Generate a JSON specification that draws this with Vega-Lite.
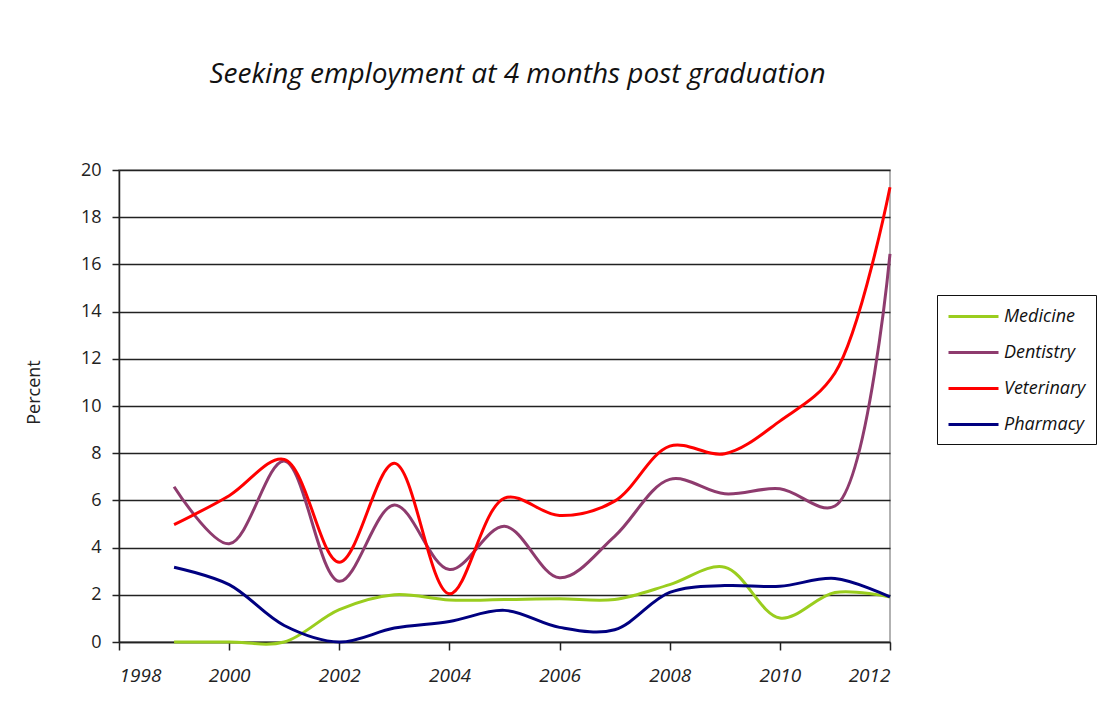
{
  "$schema": "https://vega.github.io/schema/vega-lite/v6.json",
  "autosize": "none",
  "width": 771,
  "height": 472,
  "padding": {"left": 119, "top": 170, "right": 217, "bottom": 80},
  "background": "white",
  "title": {
    "text": "Seeking employment at 4 months post graduation",
    "font": "Open Sans",
    "fontStyle": "italic",
    "fontWeight": "normal",
    "fontSize": 28,
    "color": "#111",
    "anchor": "middle",
    "dx": 13,
    "offset": 72
  },
  "data": {
    "values": [
      {"year": 1999, "series": "Medicine", "value": 0},
      {"year": 2000, "series": "Medicine", "value": 0},
      {"year": 2001, "series": "Medicine", "value": 0},
      {"year": 2002, "series": "Medicine", "value": 1.37},
      {"year": 2003, "series": "Medicine", "value": 2.0},
      {"year": 2004, "series": "Medicine", "value": 1.78},
      {"year": 2005, "series": "Medicine", "value": 1.8},
      {"year": 2006, "series": "Medicine", "value": 1.83},
      {"year": 2007, "series": "Medicine", "value": 1.8},
      {"year": 2008, "series": "Medicine", "value": 2.43},
      {"year": 2009, "series": "Medicine", "value": 3.17},
      {"year": 2010, "series": "Medicine", "value": 1.02},
      {"year": 2011, "series": "Medicine", "value": 2.1},
      {"year": 2012, "series": "Medicine", "value": 1.91},
      {"year": 1999, "series": "Dentistry", "value": 6.58},
      {"year": 2000, "series": "Dentistry", "value": 4.16},
      {"year": 2001, "series": "Dentistry", "value": 7.67},
      {"year": 2002, "series": "Dentistry", "value": 2.57},
      {"year": 2003, "series": "Dentistry", "value": 5.81},
      {"year": 2004, "series": "Dentistry", "value": 3.07},
      {"year": 2005, "series": "Dentistry", "value": 4.9},
      {"year": 2006, "series": "Dentistry", "value": 2.72},
      {"year": 2007, "series": "Dentistry", "value": 4.48},
      {"year": 2008, "series": "Dentistry", "value": 6.89},
      {"year": 2009, "series": "Dentistry", "value": 6.28},
      {"year": 2010, "series": "Dentistry", "value": 6.49},
      {"year": 2011, "series": "Dentistry", "value": 5.76},
      {"year": 2012, "series": "Dentistry", "value": 16.45},
      {"year": 1999, "series": "Veterinary", "value": 4.97},
      {"year": 2000, "series": "Veterinary", "value": 6.2},
      {"year": 2001, "series": "Veterinary", "value": 7.74},
      {"year": 2002, "series": "Veterinary", "value": 3.38},
      {"year": 2003, "series": "Veterinary", "value": 7.57},
      {"year": 2004, "series": "Veterinary", "value": 2.04},
      {"year": 2005, "series": "Veterinary", "value": 6.1},
      {"year": 2006, "series": "Veterinary", "value": 5.36},
      {"year": 2007, "series": "Veterinary", "value": 5.97},
      {"year": 2008, "series": "Veterinary", "value": 8.3},
      {"year": 2009, "series": "Veterinary", "value": 7.98},
      {"year": 2010, "series": "Veterinary", "value": 9.36},
      {"year": 2011, "series": "Veterinary", "value": 11.4},
      {"year": 2012, "series": "Veterinary", "value": 19.27},
      {"year": 1999, "series": "Pharmacy", "value": 3.17},
      {"year": 2000, "series": "Pharmacy", "value": 2.43},
      {"year": 2001, "series": "Pharmacy", "value": 0.7},
      {"year": 2002, "series": "Pharmacy", "value": 0},
      {"year": 2003, "series": "Pharmacy", "value": 0.59},
      {"year": 2004, "series": "Pharmacy", "value": 0.87},
      {"year": 2005, "series": "Pharmacy", "value": 1.34},
      {"year": 2006, "series": "Pharmacy", "value": 0.62},
      {"year": 2007, "series": "Pharmacy", "value": 0.52},
      {"year": 2008, "series": "Pharmacy", "value": 2.1},
      {"year": 2009, "series": "Pharmacy", "value": 2.39},
      {"year": 2010, "series": "Pharmacy", "value": 2.36},
      {"year": 2011, "series": "Pharmacy", "value": 2.69},
      {"year": 2012, "series": "Pharmacy", "value": 1.91}
    ]
  },
  "mark": {"type": "line", "interpolate": "catmull-rom", "strokeWidth": 3, "clip": false},
  "encoding": {
    "x": {
      "field": "year",
      "type": "quantitative",
      "scale": {"domain": [1998, 2012], "nice": false, "zero": false},
      "axis": {
        "title": null,
        "values": [1998, 2000, 2002, 2004, 2006, 2008, 2010, 2012],
        "format": "d",
        "grid": false,
        "domainColor": "#222",
        "domainWidth": 1.5,
        "tickColor": "#222",
        "tickWidth": 1.5,
        "tickSize": 8,
        "labelFont": "Open Sans",
        "labelFontStyle": "italic",
        "labelFontSize": 19,
        "labelColor": "#222",
        "labelPadding": 16
      }
    },
    "y": {
      "field": "value",
      "type": "quantitative",
      "scale": {"domain": [0, 20], "nice": false},
      "axis": {
        "title": "Percent",
        "titleFont": "Open Sans",
        "titleFontWeight": "normal",
        "titleFontSize": 18,
        "titleColor": "#222",
        "titleX": -85,
        "titleY": 222,
        "titleAngle": 270,
        "titleAlign": "center",
        "titleBaseline": "middle",
        "values": [0, 2, 4, 6, 8, 10, 12, 14, 16, 18, 20],
        "grid": true,
        "gridColor": "#222",
        "gridWidth": 1.5,
        "domainColor": "#222",
        "domainWidth": 1.5,
        "tickColor": "#222",
        "tickWidth": 1.5,
        "tickSize": 7,
        "labelFont": "Open Sans",
        "labelFontSize": 18,
        "labelColor": "#222",
        "labelPadding": 11
      }
    },
    "color": {
      "field": "series",
      "type": "nominal",
      "scale": {
        "domain": ["Medicine", "Dentistry", "Veterinary", "Pharmacy"],
        "range": ["#9ACD1E", "#8E3B6E", "#FF0000", "#000080"]
      },
      "legend": {
        "title": null,
        "orient": "none",
        "legendX": 818,
        "legendY": 125,
        "symbolType": "M-1,0H4",
        "symbolSize": 400,
        "symbolStrokeWidth": 3,
        "symbolFillColor": "transparent",
        "labelOffset": 34,
        "labelFont": "Open Sans",
        "labelFontStyle": "italic",
        "labelFontSize": 18,
        "labelColor": "#111",
        "rowPadding": 15,
        "padding": 10,
        "strokeColor": "#111",
        "fillColor": "white"
      }
    }
  },
  "config": {
    "view": {"stroke": "#999", "strokeWidth": 1.5}
  }
}
